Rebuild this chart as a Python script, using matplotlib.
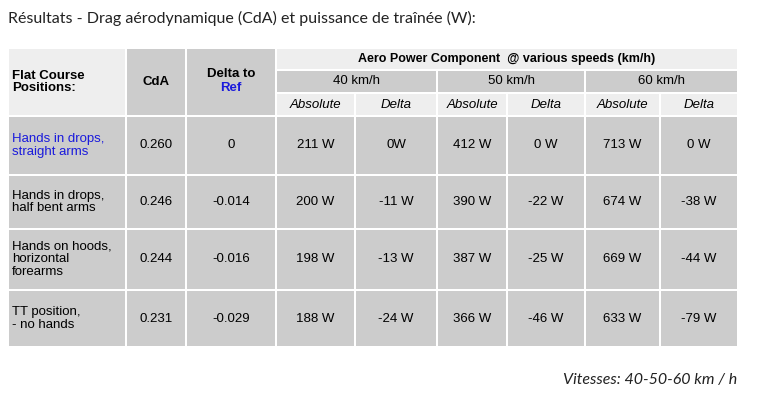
import matplotlib.pyplot as plt
from matplotlib.patches import Rectangle

# Données du tableau
positions = ["Hands in drops,\nstraight arms", "Hands in drops,\nhalf bent arms",
             "Hands on hoods,\nhorizontal\nforearms", "TT position,\n- no hands"]
cda = ["0.260", "0.246", "0.244", "0.231"]
delta_ref = ["0", "-0.014", "-0.016", "-0.029"]
vitesses = ["40 km/h", "50 km/h", "60 km/h"]
absolu = [["211 W", "412 W", "713 W"],
          ["200 W", "390 W", "674 W"],
          ["198 W", "387 W", "669 W"],
          ["188 W", "366 W", "633 W"]]
delta_w = [["0W", "0 W", "0 W"],
           ["-11 W", "-22 W", "-38 W"],
           ["-13 W", "-25 W", "-44 W"],
           ["-24 W", "-46 W", "-79 W"]]

CLAIR = "#eeeeee"
FONCE = "#cccccc"
BLEU = "#1a1adc"
POLICE = "Liberation Sans"

fig = plt.figure(figsize=(7.67, 4.05), dpi=100)
ax = fig.add_axes([0, 0, 1, 1])
ax.set_xlim(0, 767)
ax.set_ylim(405, 0)
ax.axis("off")

def cellule(x0, x1, y0, y1, couleur, texte="", **kw):
    ax.add_patch(Rectangle((x0 + 1, y0 + 1), x1 - x0 - 2, y1 - y0 - 2, color=couleur, lw=0))
    if texte:
        kw.setdefault("ha", "center")
        kw.setdefault("fontsize", 9.5)
        tx = (x0 + x1) / 2 if kw["ha"] == "center" else x0 + 4
        ax.text(tx, (y0 + y1) / 2, texte, va="center",
                family=POLICE, linespacing=1.1, **kw)

cols = [8, 126, 186, 276, 355, 437, 507, 585, 660, 738]
lignes = [116, 175, 229, 290, 347]

ax.text(8, 18, "Résultats - Drag aérodynamique (CdA) et puissance de traînée (W):",
        fontsize=11.5, family="Lato", va="center", color="#222222")

# En-tête
cellule(8, 126, 48, 116, CLAIR, "Flat Course\nPositions:", ha="left", weight="bold")
cellule(126, 186, 48, 116, FONCE, "CdA", weight="bold")
cellule(186, 276, 48, 116, FONCE)
ax.text(231, 74, "Delta to", ha="center", va="center", fontsize=9.5, family=POLICE, weight="bold")
ax.text(231, 88, "Ref", ha="center", va="center", fontsize=9.5, family=POLICE, weight="bold", color=BLEU)
cellule(276, 738, 48, 70, CLAIR, "Aero Power Component  @ various speeds (km/h)", weight="bold", fontsize=9)
for i, v in enumerate(vitesses):
    cellule(cols[3 + 2 * i], cols[5 + 2 * i], 70, 93, FONCE, v)
    cellule(cols[3 + 2 * i], cols[4 + 2 * i], 93, 116, CLAIR, "Absolute", style="italic")
    cellule(cols[4 + 2 * i], cols[5 + 2 * i], 93, 116, CLAIR, "Delta", style="italic")

# Lignes de données
for r in range(len(positions)):
    y0, y1 = lignes[r], lignes[r + 1]
    cellule(8, 126, y0, y1, FONCE, positions[r], ha="left", color=BLEU if r == 0 else "black")
    cellule(126, 186, y0, y1, FONCE, cda[r])
    cellule(186, 276, y0, y1, FONCE, delta_ref[r])
    for i in range(3):
        cellule(cols[3 + 2 * i], cols[4 + 2 * i], y0, y1, FONCE, absolu[r][i])
        cellule(cols[4 + 2 * i], cols[5 + 2 * i], y0, y1, FONCE, delta_w[r][i])

ax.text(737, 380, "Vitesses: 40-50-60 km / h", ha="right", va="center",
        fontsize=11.5, family="Lato", style="italic", color="#222222")

fig.savefig("out.png", dpi=100)
